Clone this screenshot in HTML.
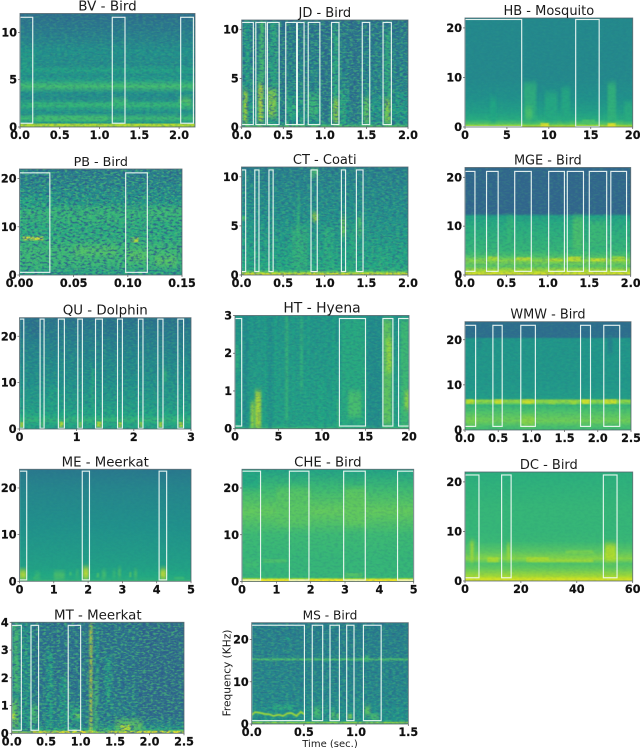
<!DOCTYPE html>
<html lang="en">
<head>
<meta charset="utf-8">
<title>Spectrogram grid</title>
<style>
html,body{margin:0;padding:0;background:#fff;width:640px;height:748px;overflow:hidden}
svg{display:block}
text{font-family:"DejaVu Sans","Liberation Sans",sans-serif;fill:#1a1a1a}
.tick{font-weight:700;font-size:11.2px;fill:#111;stroke:#111;stroke-width:.2}
</style>
</head>
<body>
<svg id="figure" xmlns="http://www.w3.org/2000/svg" width="640" height="748" viewBox="0 0 640 748">
<defs id="defs">
<filter id="noise-dark" x="0" y="0" width="1" height="1" color-interpolation-filters="sRGB">
<feTurbulence type="fractalNoise" baseFrequency=".26 .5" numOctaves="2" seed="3"/>
<feColorMatrix type="matrix" values="0 0 0 0 .18  0 0 0 0 .36  0 0 0 0 .55  3.6 0 0 0 -1.55"/>
</filter>
<filter id="noise-light" x="0" y="0" width="1" height="1" color-interpolation-filters="sRGB">
<feTurbulence type="fractalNoise" baseFrequency=".28 .54" numOctaves="2" seed="11"/>
<feColorMatrix type="matrix" values="0 0 0 0 .3  0 0 0 0 .76  0 0 0 0 .45  0 3.6 0 0 -1.6"/>
</filter>
<filter id="soft" x="-40%" y="-40%" width="180%" height="180%"><feGaussianBlur stdDeviation="1 2.6"/></filter>
<filter id="soft-fine" x="-30%" y="-80%" width="160%" height="260%"><feGaussianBlur stdDeviation="0.7 0.5"/></filter>
</defs>
</svg>
<script>
// ---------- chart values ----------
const panelTitles = ["BV - Bird","JD - Bird","HB - Mosquito","PB - Bird","CT - Coati","MGE - Bird","QU - Dolphin","HT - Hyena","WMW - Bird","ME - Meerkat","CHE - Bird","DC - Bird","MT - Meerkat","MS - Bird"];
const xMaxes = [2.2,2,20,0.15,2,2,3,20,2.5,5,5,60,2.5,1.5];
const yMaxes = [12,11,22,22,11,22,24,3,24,24,24,22,4,24];
const xTickLabels = [
 ["0.0","0.5","1.0","1.5","2.0"],["0.0","0.5","1.0","1.5","2.0"],["0","5","10","15","20"],
 ["0.00","0.05","0.10","0.15"],["0.0","0.5","1.0","1.5","2.0"],["0.0","0.5","1.0","1.5","2.0"],
 ["0","1","2","3"],["0","5","10","15","20"],["0.0","0.5","1.0","1.5","2.0","2.5"],
 ["0","1","2","3","4","5"],["0","1","2","3","4","5"],["0","20","40","60"],
 ["0.0","0.5","1.0","1.5","2.0","2.5"],["0.0","0.5","1.0","1.5"]];
const yTickLabels = [
 ["0","5","10"],["0","5","10"],["0","10","20"],["0","10","20"],["0","5","10"],["0","10","20"],
 ["0","10","20"],["0","1","2","3"],["0","10","20"],["0","10","20"],["0","10","20"],["0","10","20"],
 ["0","1","2","3","4"],["0","10","20"]];
// detection boxes: start time, end time for each labelled segment
const boxTimes = [
 [[0,.16],[1.16,1.32],[2.02,2.18]],
 [[0,.14],[.17,.29],[.31,.45],[.53,.66],[.67,.75],[.8,.94],[1.08,1.17],[1.45,1.54],[1.7,1.8]],
 [[0,6.76],[13.2,16]],
 [[0,.028],[.098,.118]],
 [[0,.05],[.16,.21],[.33,.38],[.835,.91],[1.2,1.25],[1.38,1.46]],
 [[0,.12],[.26,.4],[.6,.8],[1.01,1.2],[1.235,1.43],[1.5,1.71],[1.76,1.95]],
 [[0,.075],[.36,.43],[.68,.785],[1.02,1.1],[1.33,1.45],[1.715,1.8],[2.08,2.16],[2.42,2.51],[2.77,2.87]],
 [[0,.77],[12,15],[17,18.15],[18.8,20]],
 [[0,.16],[.42,.56],[.84,1.06],[1.74,1.89],[2.09,2.33]],
 [[0,.21],[1.83,2.04],[4.07,4.29]],
 [[0,.54],[1.38,1.95],[2.96,3.59],[4.53,5]],
 [[0,5],[13.1,16.5],[49.5,54.4]],
 [[0,.14],[.28,.39],[.82,1]],
 [[0,.505],[.58,.68],[.75,.84],[.91,.98],[1.07,1.24]]];
const boxLowFreq = [.4,.25,.1,.55,.35,.75,.15,.07,.8,.3,.3,.65,.11,.8];
const boxHighFreq = [11.6,10.75,21.7,21.2,10.7,21.2,23.7,2.92,23.2,23.6,23.6,21.4,3.89,23.4];
// background spectrum: frequency stops and viridis level at that frequency
const spectrumFreqs = [
 [0,.25,.45,.9,1.5,2.3,3,3.6,4.3,5,5.5,6,6.6,8,9,10.5,12],
 [0,.15,.4,2,4,8,11],
 [0,.2,.6,1.5,3,6,10,22],
 [0,2,5,8,10,13,15,18,20,22],
 [0,.15,.3,.5,1,3,6,9,11],
 [0,.3,1,1.8,3,3.8,5,10,12,12.6,22],
 [0,.3,1,2,3,5,10,15,20,24],
 [0,.05,.12,1,3],
 [0,1,2,4,5.5,6,6.5,7,10,20.2,20.6,24],
 [0,.4,1.5,3,5,12,20,24],
 [0,.15,.35,.6,.9,2,5,10,15,20,24],
 [0,.5,1,2.5,3.5,4.5,6,8,10,15,22],
 [0,.06,.12,.3,1,2,4],
 [0,.3,.7,1.2,3,5,14.8,15.3,15.8,24]];
const spectrumLevels = [
 [.85,.92,.55,.68,.5,.63,.48,.5,.7,.55,.5,.57,.48,.5,.45,.4,.36],
 [.78,.7,.5,.52,.45,.42,.38],
 [.92,.88,.74,.62,.56,.5,.47,.47],
 [.55,.66,.68,.62,.62,.66,.52,.47,.42,.42],
 [.97,.95,.8,.62,.6,.56,.5,.46,.42],
 [.97,.94,.86,.74,.82,.72,.66,.62,.58,.33,.33],
 [.56,.58,.6,.65,.6,.55,.5,.47,.42,.38],
 [.7,.62,.57,.55,.52],
 [.68,.72,.78,.72,.66,.8,.84,.55,.53,.52,.36,.36],
 [.7,.62,.6,.57,.55,.5,.45,.4],
 [.85,.98,1,.85,.66,.66,.66,.68,.76,.68,.58],
 [.95,.92,.86,.76,.72,.82,.74,.67,.66,.66,.63],
 [.95,1,.62,.44,.41,.38,.37],
 [.62,.85,.55,.5,.5,.47,.44,.72,.44,.42]];
// localized energy: start time, end time, low frequency, high frequency, level
const energyBursts = [
 [[1.15,1.35,2.2,3,.7],[2,2.15,2.2,3.1,.76],[0,.2,6,8,.55],[.2,1.1,.6,1.2,.7],[.1,2.1,2.1,2.6,.66]],
 [[.02,.07,.4,3.8,.9],[.03,.1,4,11,.58],[.2,.26,.5,4.5,.95],[.21,.27,4.5,11,.72],[.31,.42,1,4,.85],[.34,.42,4,11,.62],[.47,.53,.5,11,.38],[.55,.65,1,3,.62],[.8,.92,1,3.5,.68],[.96,1.06,.5,11,.36],[1.1,1.16,.4,3,.88],[1.1,1.16,3,10.5,.62],[1.19,1.25,.4,4,.62],[1.3,1.42,.5,11,.37],[1.47,1.53,.4,3,.8],[1.72,1.79,.4,3,.86],[1.72,1.79,3,10,.64],[1.85,1.98,1,3.5,.55]],
 [[3,3.7,1,6,.6],[7,8.5,1,9,.64],[9.5,11,1,7,.61],[11.5,12.5,1,8,.61],[17,18,1,9,.66],[19,20,1,5,.62],[9,10,0,.8,.98],[17,18,0,.8,.98],[7.2,8,1.5,4,.72],[14,15.5,.6,1.5,.72]],
 [[.003,.022,7.2,8,1],[.103,.11,6.8,7.8,.95],[.12,.15,12,14,.68],[.1,.118,3,5,.76],[.05,.09,4,6,.74],[.125,.145,2,4,.76],[.03,.09,11,14,.66],[0,.03,14,16,.6]],
 [[.6,.8,.5,5,.64],[.67,.7,1,8.5,.66],[.85,.92,5.5,6.3,.92],[.5,.58,.5,3,.6],[1.2,1.25,4,6,.8],[1.4,1.44,4,6,.74],[1.65,1.72,.5,2.5,.62],[0,.05,5.5,6,.72],[.98,1.1,.5,5,.62],[1.3,1.37,.5,5,.62],[.83,.93,10,11,.72]],
 [[.62,.8,3,3.6,.92],[.28,.4,3,3.8,.88],[1.02,1.18,2.8,3.4,.9],[1.24,1.4,2.8,3.8,.92],[1.52,1.7,2.8,3.4,.94],[1.78,1.93,2.8,3.8,.88],[1.3,1.42,5,12,.72],[1.5,1.7,6,11,.68],[.5,.58,5,12,.66]],
 [[.01,.07,.4,1.5,.92],[.38,.42,.4,1.5,.72],[.7,.77,.4,1.6,.92],[1.04,1.09,.4,1.5,.82],[1.35,1.44,.4,1.6,.92],[1.73,1.79,.4,1.5,.9],[2.1,2.15,.4,1.5,.88],[2.44,2.5,.4,1.5,.9],[2.79,2.86,.4,1.5,.92],[1.25,1.3,5,13,.62],[2.52,2.58,10,13,.66],[.2,.35,20,24,.36],[1.5,1.7,20,24,.38],[.5,.7,3,9,.58]],
 [[1.8,2.2,0,.7,.88],[2.3,3,0,1,.92],[5.8,6.1,.2,3,.68],[7.5,7.8,1,3,.66],[.85,1.5,0,3,.47],[3.8,4.3,0,3,.48],[9.5,10.2,0,1.3,.6],[12.2,15,0,2.9,.62],[13,14.5,.3,1,.72],[15.2,16.9,0,3,.47],[17,18,.1,2.9,.78],[17.4,18,1.5,2.4,.85],[19,20,0,2.9,.7],[19.5,20,.5,1,.85],[11.2,11.5,0,3,.6],[0,.5,1.5,2.2,.62],[3.4,3.6,.3,3,.58],[4.6,4.8,.5,3,.6],[6.6,6.8,.5,3,.6],[8.3,8.5,.5,3,.6],[10.3,10.5,0,3,.58],[11.7,11.9,0,.8,.68]],
 [[.02,.13,5.8,6.8,.92],[.45,.56,5.8,6.8,.94],[.86,1.04,5.8,6.8,.94],[1.26,1.36,5.7,6.4,.84],[1.58,1.68,5.7,6.5,.86],[1.76,1.88,5.8,6.8,.96],[2.1,2.28,5.8,6.8,.94],[.85,1.05,1,3,.84],[.02,.2,1,3,.8],[.18,.25,18,20,.45],[2.15,2.22,17,21,.42]],
 [[0,.2,.5,2.4,.94],[1.85,2.02,.5,3,.95],[4.1,4.28,.5,2.6,.95],[.45,.6,.5,1.8,.7],[.4,.5,.4,1,.68],[1,1.32,.5,2,.74],[1.45,1.52,1.2,2,.7],[1.65,1.72,1,2.3,.72],[2.25,2.32,.8,1.8,.72],[2.4,2.52,.6,2.3,.72],[2.72,2.8,.8,2.3,.7],[2.88,2.95,.9,2.8,.76],[3.2,3.26,.9,2,.74],[3.35,3.42,.8,2.4,.76],[4.5,4.8,.4,1,.68]],
 [[.05,.5,3,4.5,.7],[.6,1.3,4,4.8,.72],[3,3.5,1,1.8,.74],[1,2,12,20,.74],[3,3.6,12,20,.76],[0,.5,20,24,.6]],
 [[1,4,5,8,.74],[2,3,4,8,.88],[8,12,3.8,4.8,.88],[15,16,4,7.5,.86],[22,30,4,4.8,.88],[36,46,5.5,6.2,.8],[50,54,4,7.5,.9],[22,46,3.8,4.4,.86]],
 [[0,.3,0,4,.52],[.03,.1,1.5,4,.72],[0,.1,.2,1.2,.8],[0,.05,.5,.7,.94],[.28,.38,.4,1,.72],[.5,.6,.1,3,.56],[.7,.8,.2,2,.58],[.82,1,.4,1,.62],[.9,1,.55,.7,.78],[1.13,1.17,0,4,.98],[1.2,1.25,0,2,.72],[1.22,1.26,2,4,.56],[1.35,1.45,1,2.8,.56],[1.5,1.9,.1,.5,.78],[1.58,1.72,.1,.3,.94],[1.85,2.5,.5,4,.33],[1.25,1.4,0,.2,.7]],
 [[.59,.66,1.5,4,.72],[.76,.8,1,3,.76],[.81,.84,1.3,2.5,.76],[.92,.96,1.2,2.4,.82],[1.08,1.14,2,4.2,.78],[1.14,1.22,1,2.4,.72],[.33,.37,17,17.6,.66],[.33,.37,19.8,20.6,.6],[.2,.4,3.4,4.5,.62],[1.08,1.12,14.8,16.2,.7]]];
// tonal traces (time stops, frequency stops, level)
const traceTimes = [null,null,null,null,null,null,null,null,null,null,null,null,null,
 [0,.03,.07,.12,.17,.21,.26,.3,.34,.38,.43,.47,.505]];
const traceFreqs = [null,null,null,null,null,null,null,null,null,null,null,null,null,
 [2.1,2.8,2.7,2.4,2.3,1.9,2.2,1.9,2.5,2.6,1.9,2.9,2.3]];
const traceLevels = [0,0,0,0,0,0,0,0,0,0,0,0,0,.86];
const noiseStrength = [.3,.7,.08,.85,.5,.2,.3,.25,.12,.06,.15,.06,.8,.45];
const titleSizes = [13.5,13,13,12.7,13,12.9,13.4,13.9,12.9,13.3,13.3,13,13.4,12.2];
// ---------- layout: [left, right, top, bottom] of each plot ----------
const plotFrames = [
 [20,195,13.5,127],[241.7,408,20,127],[465,632.7,18,127],
 [19.5,182,169,275],[241.5,408,167,275],[465,630.7,167.5,275],
 [19.5,191,317.7,429],[235,409,315.5,428.7],[465,631,321.7,430],
 [19.5,191,469.3,581.3],[242,413.7,469.3,581.5],[465,632.7,472,581],
 [11.7,184,622.3,733.3],[251.7,408.3,622.7,724]];

// ---------- helpers ----------
const NS = "http://www.w3.org/2000/svg";
const root = document.getElementById("figure");
const defs = document.getElementById("defs");
const viridisStops = ["#440154","#482475","#414487","#355f8d","#2a788e","#21918c","#22a884","#44bf70","#7ad151","#bddf26","#fde725"];
function hexToRgb(h){ return [1,3,5].map(function(k){ return parseInt(h.substr(k,2),16); }); }
function viridis(v){
  const t = Math.max(0,Math.min(1,v))*(viridisStops.length-1);
  const i = Math.min(Math.floor(t),viridisStops.length-2);
  const a = hexToRgb(viridisStops[i]), b = hexToRgb(viridisStops[i+1]), u = t-i;
  return "rgb("+a.map(function(c,k){ return Math.round(c+(b[k]-c)*u); }).join(",")+")";
}
function make(tag, attrs, parent){
  const el = document.createElementNS(NS,tag);
  Object.keys(attrs).forEach(function(k){ el.setAttribute(k,attrs[k]); });
  parent.appendChild(el);
  return el;
}
function xScale(p,v){ const f = plotFrames[p]; return f[0]+(v/xMaxes[p])*(f[1]-f[0]); }
function yScale(p,v){ const f = plotFrames[p]; return f[3]-(v/yMaxes[p])*(f[3]-f[2]); }

// ---------- draw ----------
panelTitles.forEach(function(title,p){
  const f = plotFrames[p];
  const w = f[1]-f[0], h = f[3]-f[2];
  const slug = title.split(" - ")[0].toLowerCase();
  const g = make("g",{},root);
  
  

  const grad = make("linearGradient",{id:"spec"+p,x1:0,y1:0,x2:0,y2:1,gradientUnits:"userSpaceOnUse"},defs);
  grad.setAttribute("y1",yScale(p,0));
  grad.setAttribute("y2",yScale(p,yMaxes[p]));
  spectrumFreqs[p].forEach(function(fr,i){
    make("stop",{offset:fr/yMaxes[p],"stop-color":viridis(spectrumLevels[p][i])},grad);
  });
  const clip = make("clipPath",{id:"clip"+p},defs);
  make("rect",{x:f[0],y:f[2],width:w,height:h},clip);

  const body = make("g",{"clip-path":"url(#clip"+p+")"},g);
  
  
  const bg = make("rect",{x:f[0],y:f[2],width:w,height:h,fill:"url(#spec"+p+")"},body);
  
  

  energyBursts[p].forEach(function(b){
    const y1 = yScale(p,b[3]), y0 = yScale(p,b[2]);
    const r = make("rect",{x:xScale(p,b[0]),y:y1,width:xScale(p,b[1])-xScale(p,b[0]),height:y0-y1,fill:viridis(b[4]),opacity:.8,filter:(y0-y1<6?"url(#soft-fine)":"url(#soft)")},body);
    
    
  });

  const nd = make("rect",{x:f[0],y:f[2],width:w,height:h,filter:"url(#noise-dark)",opacity:noiseStrength[p]},body);
  
  
  const nl = make("rect",{x:f[0],y:f[2],width:w,height:h,filter:"url(#noise-light)",opacity:noiseStrength[p]*.8},body);
  
  

  if(traceTimes[p]){
    const pts = traceTimes[p].map(function(t,i){ return xScale(p,t)+","+yScale(p,traceFreqs[p][i]); }).join(" ");
    const line = make("polyline",{points:pts,fill:"none",stroke:viridis(traceLevels[p]),"stroke-width":1.7,"stroke-linejoin":"round",filter:"url(#soft-fine)"},body);
    
    
  }

  boxTimes[p].forEach(function(b){
    const y1 = yScale(p,boxHighFreq[p]), y0 = yScale(p,boxLowFreq[p]);
    const r = make("rect",{x:xScale(p,b[0]),y:y1,width:xScale(p,b[1])-xScale(p,b[0]),height:y0-y1,fill:"none",stroke:"#f2fbf6","stroke-width":1.15,"stroke-opacity":.92},g);
    
    
  });

  const frame = make("rect",{x:f[0],y:f[2],width:w,height:h,fill:"none",stroke:"#52636a","stroke-width":.9,"stroke-opacity":.85},g);
  
  

  xTickLabels[p].forEach(function(lab){
    const x = xScale(p,parseFloat(lab));
    const tk = make("line",{x1:x,x2:x,y1:f[3],y2:f[3]+2,stroke:"#555","stroke-width":.7},g);
    
    
    const t = make("text",{x:x,y:f[3]+12,"text-anchor":"middle","class":"tick"},g);
    t.textContent = lab;
    
    
  });
  yTickLabels[p].forEach(function(lab){
    const y = yScale(p,parseFloat(lab));
    const tk = make("line",{x1:f[0]-2,x2:f[0],y1:y,y2:y,stroke:"#555","stroke-width":.7},g);
    
    
    const t = make("text",{x:f[0]-3,y:y+4,"text-anchor":"end","class":"tick"},g);
    t.textContent = lab;
    
    
  });

  const tt = make("text",{x:(f[0]+f[1])/2,y:f[2]-3,"text-anchor":"middle","font-size":titleSizes[p]},g);
  tt.textContent = title;
  
  
});

const xt = make("text",{x:330,y:747,"text-anchor":"middle","font-size":10},root);
xt.textContent = "Time (sec.)";


const yt = make("text",{x:0,y:0,"text-anchor":"middle","font-size":10.6,transform:"translate(230.5,673) rotate(-90)"},root);
yt.textContent = "Frequency (KHz)";


</script>
</body>
</html>
